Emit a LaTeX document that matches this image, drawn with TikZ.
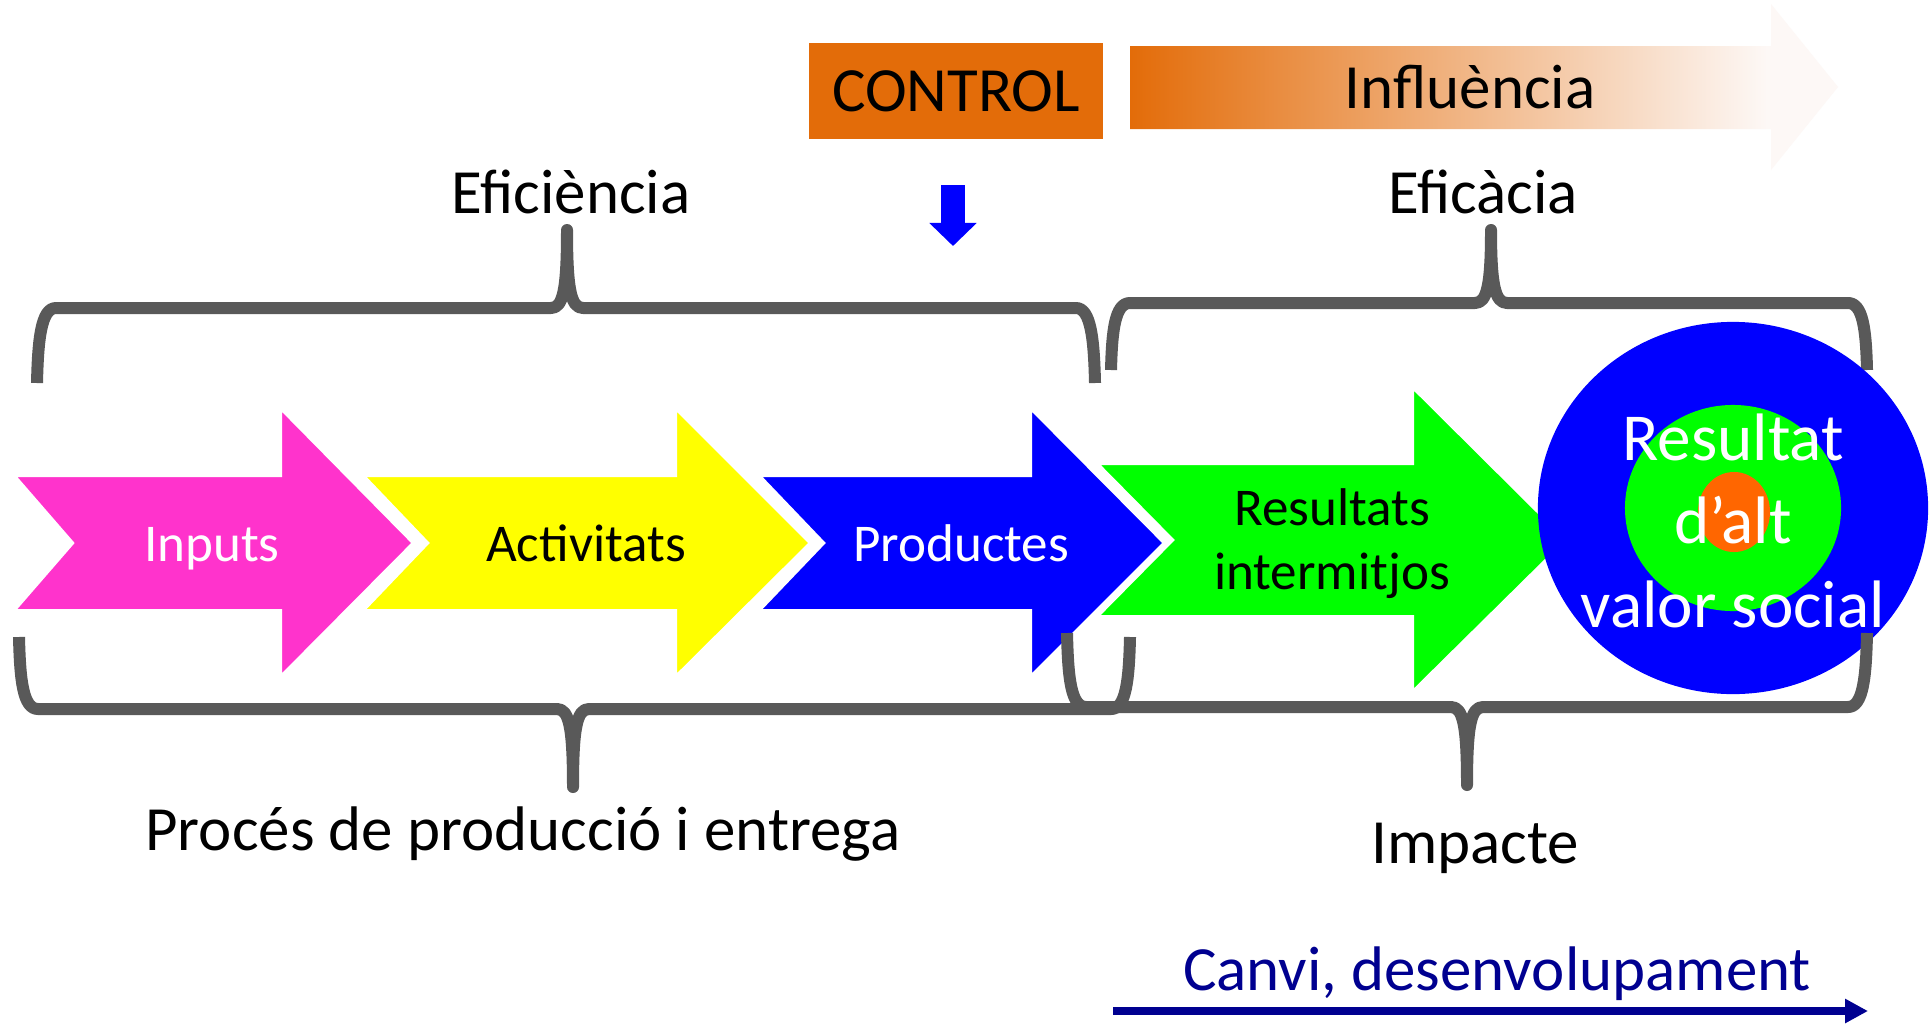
\documentclass[tikz,border=0pt]{standalone}
\usepackage{fontspec}
\setmainfont{Carlito}
\usetikzlibrary{arrows.meta}
\definecolor{ctrlorange}{HTML}{E36C09}
\definecolor{pinkarrow}{HTML}{FF33CC}
\definecolor{yellowarrow}{HTML}{FFFF00}
\definecolor{bluearrow}{HTML}{0000FF}
\definecolor{greenarrow}{HTML}{00FF00}
\definecolor{dotorange}{HTML}{FF6600}
\definecolor{bracegray}{HTML}{595959}
\definecolor{navyblue}{HTML}{000090}
\definecolor{faintend}{HTML}{FDF8F6}
\pgfdeclarehorizontalshading{inflshade}{100bp}{color(0bp)=(ctrlorange); color(25bp)=(ctrlorange); color(70bp)=(faintend); color(100bp)=(faintend)}
\tikzset{
  bracepath/.style={draw=bracegray, line width=0.12cm, line join=round, line cap=butt},
  chevron/.style={draw=white, line width=0.04cm},
  biglabel/.style={font=\fontsize{17.9}{21.5}\selectfont, inner sep=0, anchor=base},
  arrowlabel/.style={font=\fontsize{15.1}{18}\selectfont, inner sep=0, anchor=base},
  targetlabel/.style={font=\fontsize{19.1}{23}\selectfont, inner sep=0, anchor=base, text=white},
}
\begin{document}
\begin{tikzpicture}[x=0.01cm, y=-0.01cm]
\useasboundingbox (0,0) rectangle (1931,1024);
\fill[white] (0,0) rectangle (1931,1024);

% Influencia arrow with gradient
\path[shading=inflshade] (1130,46) -- (1771,46) -- (1771,4) -- (1838,87) -- (1771,170) -- (1771,129) -- (1130,129) -- cycle;
\node[biglabel] (influencia) at (1470,108) {Influència};

% CONTROL box
\node[fill=ctrlorange, minimum width=2.94cm, minimum height=0.96cm, inner sep=0,
      font=\fontsize{17.9}{21.5}\selectfont] (control) at (956,91) {CONTROL};

% down arrow
\coordinate (ctrltop) at (953,185);
\coordinate (ctrltip) at (953,246);
\draw[bluearrow, line width=0.24cm, -{Triangle[length=0.23cm, width=0.46cm]}] (ctrltop) -- (ctrltip);

% labels above braces
\node[biglabel] (eficiencia) at (571,213) {Eficiència};
\node[biglabel] (eficacia) at (1483,213) {Eficàcia};

% top braces
\draw[bracepath] (37,383) .. controls (38,340) and (41,308) .. (56,308) -- (551,308)
  .. controls (563,308) and (567,290) .. (567,230)
  .. controls (567,290) and (571,308) .. (583,308) -- (1076,308)
  .. controls (1091,308) and (1094,340) .. (1095,383);
\draw[bracepath] (1111,370) .. controls (1112,330) and (1115,303) .. (1130,303) -- (1475,303)
  .. controls (1487,303) and (1491,285) .. (1491,230)
  .. controls (1491,285) and (1495,303) .. (1507,303) -- (1848,303)
  .. controls (1863,303) and (1866,330) .. (1867,370);

% process arrows
\path[chevron, fill=pinkarrow] (13,475) -- (280,475) -- (280,407) -- (414,543) -- (280,678) -- (280,611) -- (13,611) -- (72,543) -- cycle;
\path[chevron, fill=yellowarrow] (362,475) -- (675,475) -- (675,407) -- (811,543) -- (675,678) -- (675,611) -- (362,611) -- (427,543) -- cycle;
\path[chevron, fill=bluearrow] (758,475) -- (1030,475) -- (1030,407) -- (1165,543) -- (1030,678) -- (1030,611) -- (758,611) -- (823,543) -- cycle;
\path[chevron, fill=greenarrow] (1096,463) -- (1412,463) -- (1412,386) -- (1567,540) -- (1412,693) -- (1412,617) -- (1096,617) -- (1172,540) -- cycle;

\node[arrowlabel, text=white] (inputs) at (212,561) {Inputs};
\node[arrowlabel] (activitats) at (586,561) {Activitats};
\node[arrowlabel, text=white] (productes) at (961,561) {Productes};
\node[arrowlabel] (resultats1) at (1332,525) {Resultats};
\node[arrowlabel] (resultats2) at (1332,589) {intermitjos};

% target
\fill[bluearrow] (1733,508) ellipse [x radius=1.95cm, y radius=1.86cm];
\fill[greenarrow] (1733,508) ellipse [x radius=1.08cm, y radius=1.03cm];
\fill[dotorange] (1734,512) ellipse [x radius=0.36cm, y radius=0.40cm];
\node[targetlabel] (target1) at (1733,460) {Resultat};
\node[targetlabel] (target2) at (1733,543) {d’alt};
\node[targetlabel] (target3) at (1733,627) {valor social};

% bottom braces
\draw[bracepath] (19,637) .. controls (20,680) and (23,709) .. (38,709) -- (557,709)
  .. controls (569,709) and (573,727) .. (573,787)
  .. controls (573,727) and (577,709) .. (589,709) -- (1111,709)
  .. controls (1126,709) and (1129,680) .. (1130,637);
\draw[bracepath] (1067,633) .. controls (1068,678) and (1071,707) .. (1086,707) -- (1451,707)
  .. controls (1463,707) and (1467,725) .. (1467,785)
  .. controls (1467,725) and (1471,707) .. (1483,707) -- (1848,707)
  .. controls (1863,707) and (1866,678) .. (1867,633);

\node[biglabel] (proces) at (523,850) {Procés de producció i entrega};
\node[biglabel] (impacte) at (1475,863) {Impacte};

% change arrow
\node[biglabel, text=navyblue] (canvi) at (1497,990) {Canvi, desenvolupament};
\coordinate (canvistart) at (1113,1011);
\coordinate (canviend) at (1868,1011);
\draw[navyblue, line width=0.08cm, -{Triangle[length=0.23cm, width=0.23cm]}] (canvistart) -- (canviend);
\end{tikzpicture}
\end{document}
